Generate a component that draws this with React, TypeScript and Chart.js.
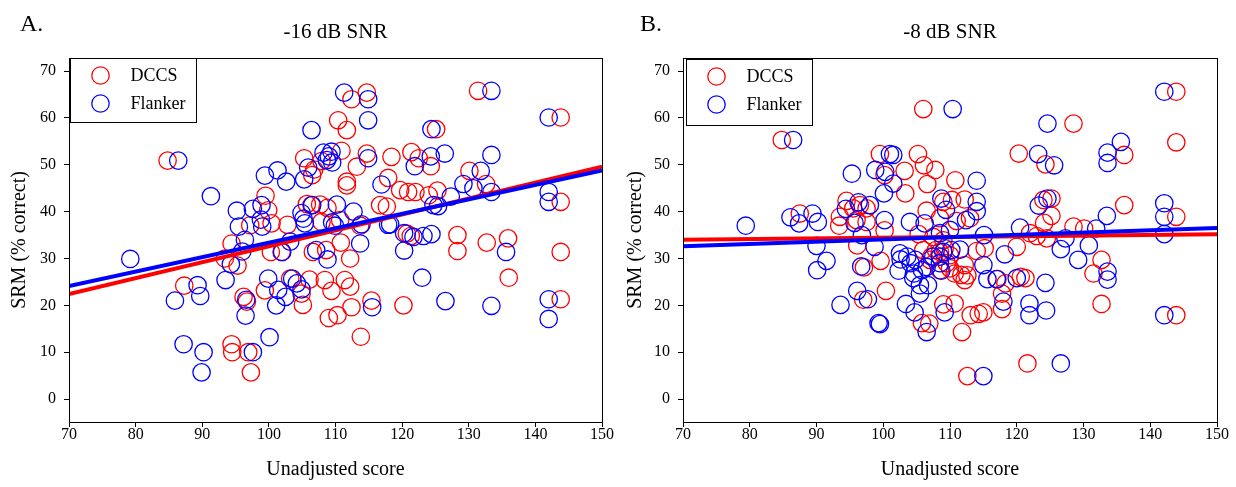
import React, { useEffect, useRef } from "react";
import { Chart, registerables } from "chart.js";

Chart.register(...registerables);

const FONT = '"Liberation Serif", "Times New Roman", serif';

const xTicks = [70, 80, 90, 100, 110, 120, 130, 140, 150];
const yTicks = [0, 10, 20, 30, 40, 50, 60, 70];
const seriesNames = ["DCCS", "Flanker"];
const panelLabels = ["A.", "B."];
const panelTitles = ["-16 dB SNR", "-8 dB SNR"];
const xAxisTitle = "Unadjusted score";
const yAxisTitle = "SRM (% correct)";

type Pt = [number, number];

// Panel A (-16 dB SNR)
const dccsA: Pt[] = [
  [84.8, 50.9], [87.3, 24.2], [93.4, 30.0], [94.4, 33.2], [95.3, 28.5], [94.4, 11.7], [94.5, 10.0],
  [96.9, 10.0], [97.3, 5.7], [96.2, 21.8], [96.7, 20.8], [97.2, 37.1], [99.5, 43.4], [99.9, 40.3],
  [100.4, 37.5], [99.4, 23.2], [100.3, 31.4], [101.9, 31.4], [102.8, 37.2], [103.2, 25.7], [104.9, 22.5],
  [105.1, 20.1], [106.1, 25.5], [105.3, 51.4], [106.5, 47.8], [106.8, 49.0], [107.9, 50.8], [105.7, 41.6],
  [106.4, 41.4], [107.7, 41.5], [108.8, 40.8], [107.9, 37.8], [106.6, 31.4], [108.6, 31.8], [108.4, 25.4],
  [109.4, 23.1], [109.0, 17.3], [110.3, 17.9], [110.8, 33.4], [112.2, 30.0], [111.4, 25.4], [112.2, 24.0],
  [112.4, 19.6], [113.8, 13.3], [113.7, 37.0], [110.7, 38.2], [111.7, 46.4], [111.7, 45.6], [113.2, 49.6],
  [110.9, 53.0], [114.7, 52.4], [110.4, 59.5], [111.7, 57.4], [112.4, 64.0], [114.7, 65.4], [116.7, 41.4],
  [117.7, 41.1], [117.9, 47.2], [118.4, 51.7], [119.7, 44.6], [120.9, 44.2], [122.0, 44.2], [121.4, 52.7],
  [122.5, 51.4], [124.3, 49.7], [124.0, 43.5], [125.3, 44.5], [125.1, 57.6], [120.7, 35.3], [121.3, 34.8],
  [120.2, 20.0], [115.4, 21.0], [128.3, 35.0], [128.3, 31.6], [130.1, 48.7], [132.6, 45.9], [131.4, 65.8],
  [132.7, 33.4], [135.9, 34.3], [136.0, 25.9], [143.8, 60.1], [143.8, 42.1], [143.8, 31.4], [143.8, 21.3],
];
const flankerA: Pt[] = [
  [86.4, 50.9], [79.2, 29.9], [91.3, 43.3], [85.9, 21.0], [89.3, 24.3], [89.7, 22.0], [87.2, 11.7],
  [90.2, 10.0], [89.9, 5.7], [93.5, 25.4], [94.3, 28.8], [96.0, 31.5], [96.4, 34.0], [95.2, 40.2],
  [95.5, 36.8], [97.6, 40.6], [98.9, 41.4], [98.8, 38.3], [99.0, 36.8], [99.4, 47.7], [101.3, 48.8],
  [102.6, 46.4], [96.6, 21.2], [96.5, 17.8], [97.6, 10.0], [100.1, 13.2], [99.9, 25.7], [101.4, 23.3],
  [101.1, 20.0], [102.5, 21.8], [103.5, 25.7], [104.2, 24.7], [104.9, 23.4], [102.0, 31.4], [103.2, 33.6],
  [104.9, 39.7], [105.2, 38.5], [105.4, 37.5], [106.5, 41.4], [105.3, 46.9], [105.9, 49.4], [106.4, 57.4],
  [108.2, 52.6], [109.0, 51.8], [108.7, 51.0], [109.5, 50.5], [109.4, 52.8], [111.3, 65.4], [114.9, 64.0],
  [114.9, 59.5], [114.9, 51.4], [110.2, 41.5], [112.7, 40.0], [113.9, 37.3], [109.5, 37.7], [109.9, 37.0],
  [107.1, 31.8], [108.8, 29.8], [113.7, 33.2], [116.9, 45.8], [117.9, 37.2], [120.3, 35.4], [121.7, 34.6],
  [123.2, 34.8], [124.4, 35.2], [120.3, 31.7], [121.9, 49.7], [124.3, 51.8], [126.4, 52.4], [124.4, 57.6],
  [129.2, 45.9], [130.7, 45.0], [131.8, 48.7], [133.4, 44.2], [133.4, 52.1], [133.4, 65.8], [142.0, 60.1],
  [142.0, 44.2], [142.0, 42.1], [142.0, 21.3], [142.0, 17.1], [124.7, 41.4], [125.4, 41.2], [127.3, 43.2],
  [118.2, 37.3], [123.0, 25.9], [126.5, 20.9], [133.4, 19.9], [135.6, 31.4], [115.5, 19.6],
];
const fitDccsA: Pt[] = [[70, 22.4], [150, 49.6]];
const fitFlankerA: Pt[] = [[70, 24.1], [150, 48.8]];

// Panel B (-8 dB SNR)
const dccsB: Pt[] = [
  [84.8, 55.3], [87.5, 39.6], [93.4, 37.0], [93.5, 38.9], [94.5, 42.3], [95.5, 40.7], [96.5, 41.4],
  [97.5, 40.7], [96.0, 38.2], [97.5, 37.8], [96.1, 32.8], [97.1, 28.1], [99.6, 29.5], [97.0, 21.2],
  [100.4, 23.1], [99.5, 52.3], [100.2, 47.8], [103.2, 48.7], [103.3, 43.9], [100.2, 36.0], [105.2, 52.3],
  [106.1, 49.9], [107.8, 48.9], [106.6, 45.9], [106.0, 61.9], [106.5, 40.2], [105.3, 35.2], [108.5, 38.6],
  [109.0, 42.1], [110.3, 42.5], [112.2, 42.6], [110.8, 46.7], [113.0, 38.6], [111.0, 38.0], [108.5, 31.4],
  [106.0, 31.8], [107.2, 30.4], [107.9, 31.8], [109.2, 32.2], [110.0, 30.7], [110.0, 27.9], [108.5, 27.5],
  [107.0, 29.7], [109.5, 29.0], [110.7, 26.8], [111.7, 26.5], [112.2, 25.4], [112.2, 28.6], [112.6, 26.4],
  [109.0, 20.2], [110.7, 20.4], [111.8, 14.3], [113.1, 17.9], [114.3, 18.2], [115.0, 18.5], [105.8, 16.2],
  [106.9, 16.1], [112.6, 4.9], [114.0, 31.6], [115.2, 32.2], [117.1, 25.6], [118.3, 24.7], [117.8, 22.5],
  [117.8, 19.2], [120.0, 32.5], [120.6, 26.1], [121.3, 25.8], [121.6, 7.6], [120.3, 52.4], [124.3, 50.1],
  [122.0, 35.4], [123.0, 34.8], [124.5, 34.3], [124.0, 42.5], [125.2, 42.8], [125.2, 39.1], [124.1, 37.6],
  [128.5, 58.8], [128.5, 36.8], [130.1, 36.4], [132.7, 29.7], [131.5, 26.8], [132.7, 20.3], [136.1, 52.1],
  [136.1, 41.4], [143.9, 65.6], [143.9, 54.8], [143.9, 38.9], [143.9, 17.9], [107.5, 34.6], [109.0, 33.9],
];
const flankerB: Pt[] = [
  [86.5, 55.3], [79.4, 37.0], [86.1, 38.8], [87.4, 37.5], [89.4, 39.6], [90.2, 37.8], [90.0, 32.7],
  [91.5, 29.5], [90.1, 27.5], [93.6, 20.1], [95.3, 48.1], [94.4, 40.6], [96.3, 42.0], [98.0, 41.4],
  [95.7, 37.6], [96.8, 35.0], [98.8, 48.9], [100.3, 48.5], [101.0, 52.3], [101.5, 52.1], [101.5, 46.0],
  [100.1, 43.9], [100.2, 38.2], [104.0, 37.8], [106.2, 37.5], [108.5, 35.4], [110.0, 36.1], [108.7, 42.8],
  [110.4, 61.9], [114.0, 46.6], [114.0, 42.1], [114.0, 40.1], [112.4, 38.2], [109.4, 40.4], [115.1, 35.0],
  [110.2, 31.8], [111.5, 31.9], [98.7, 32.5], [96.7, 28.3], [96.1, 23.1], [97.7, 21.3], [99.3, 16.2],
  [99.5, 16.0], [102.3, 27.4], [102.6, 29.8], [102.5, 31.1], [103.6, 30.4], [104.1, 29.0], [104.8, 29.7],
  [104.6, 26.8], [105.8, 27.5], [106.5, 28.2], [107.5, 30.4], [108.5, 30.4], [108.5, 29.0], [109.0, 31.4],
  [104.5, 25.8], [105.5, 24.3], [105.5, 22.5], [106.7, 24.3], [103.4, 20.3], [104.7, 18.5], [106.5, 14.3],
  [109.2, 18.5], [108.7, 27.4], [115.0, 28.6], [115.6, 25.6], [117.0, 25.6], [118.2, 30.9], [120.0, 25.8],
  [118.0, 20.8], [121.9, 20.4], [121.9, 17.9], [124.4, 18.9], [124.3, 24.8], [126.6, 7.6], [115.0, 4.9],
  [120.5, 36.6], [123.3, 41.3], [124.6, 42.8], [123.2, 52.3], [125.6, 49.9], [124.6, 58.8], [127.3, 34.3],
  [126.6, 32.0], [129.2, 29.7], [130.8, 32.8], [131.9, 36.4], [133.5, 39.1], [133.6, 27.2], [133.6, 25.5],
  [133.6, 52.6], [133.6, 50.4], [135.6, 54.9], [142.1, 65.6], [142.1, 41.8], [142.1, 38.9], [142.1, 35.2],
  [142.1, 17.9],
];
const fitDccsB: Pt[] = [[70, 34.0], [150, 35.2]];
const fitFlankerB: Pt[] = [[70, 32.6], [150, 36.5]];

const RED = "#ff0000";
const BLUE = "#0000ff";
const R = 8.7;

type PanelProps = {
  label: string;
  title: string;
  dccs: Pt[];
  flanker: Pt[];
  fitD: Pt[];
  fitF: Pt[];
  yAxisWidth: number;
  padRight: number;
  labelX: number;
  yTitleX: number;
  legendDx: number;
  legendTop: number;
  legendH: number;
};

function Panel(p: PanelProps) {
  const ref = useRef<HTMLCanvasElement | null>(null);
  useEffect(() => {
    if (!ref.current) return;
    const toXY = (a: Pt[]) => a.map(([x, y]) => ({ x, y }));
    const decor = {
      id: "decor",
      afterDraw(chart: any) {
        const { ctx, chartArea: ca } = chart;
        ctx.save();
        ctx.strokeStyle = "#000";
        ctx.lineWidth = 1;
        ctx.strokeRect(Math.round(ca.left) + 0.5, Math.round(ca.top) + 0.5, Math.round(ca.right - ca.left), Math.round(ca.bottom - ca.top));
        ctx.fillStyle = "#000";
        ctx.textBaseline = "middle";
        ctx.font = `21px ${FONT}`;
        ctx.textAlign = "center";
        ctx.fillText(p.title, (ca.left + ca.right) / 2, 32);
        ctx.font = `24px ${FONT}`;
        ctx.textAlign = "left";
        ctx.fillText(p.label, p.labelX, 25);
        ctx.font = `20px ${FONT}`;
        ctx.textAlign = "center";
        ctx.fillText(xAxisTitle, (ca.left + ca.right) / 2, 470);
        ctx.save();
        ctx.translate(p.yTitleX, (ca.top + ca.bottom) / 2);
        ctx.rotate(-Math.PI / 2);
        ctx.fillText(yAxisTitle, 0, 0);
        ctx.restore();
        const lx = Math.round(ca.left) + p.legendDx + 0.5;
        const ly = p.legendTop + 0.5;
        ctx.fillStyle = "#fff";
        ctx.fillRect(lx, ly, 126, p.legendH);
        ctx.strokeStyle = "#000";
        ctx.lineWidth = 1;
        ctx.strokeRect(lx, ly, 126, p.legendH);
        const cols = [RED, BLUE];
        seriesNames.forEach((name, i) => {
          const cy = ly + 17 + i * 28;
          ctx.beginPath();
          ctx.strokeStyle = cols[i];
          ctx.lineWidth = 1.3;
          ctx.arc(lx + 30, cy, R, 0, Math.PI * 2);
          ctx.stroke();
          ctx.fillStyle = "#000";
          ctx.font = `18px ${FONT}`;
          ctx.textAlign = "left";
          ctx.fillText(name, lx + 60, cy + 1);
        });
        ctx.restore();
      },
    };
    const tickGrid = {
      display: true,
      drawOnChartArea: false,
      drawTicks: true,
      tickLength: 5,
      tickWidth: 1,
      tickColor: "#000",
      color: "#000",
    };
    const chart = new Chart(ref.current, {
      type: "scatter",
      data: {
        datasets: [
          {
            type: "line",
            label: "fitF",
            data: toXY(p.fitF),
            borderColor: BLUE,
            borderWidth: 4,
            pointRadius: 0,
            fill: false,
            order: 0,
          } as any,
          {
            type: "line",
            label: "fitD",
            data: toXY(p.fitD),
            borderColor: RED,
            borderWidth: 4,
            pointRadius: 0,
            fill: false,
            order: 1,
          } as any,
          {
            label: seriesNames[1],
            data: toXY(p.flanker),
            pointRadius: R,
            pointHoverRadius: R,
            borderColor: BLUE,
            backgroundColor: "rgba(0,0,0,0)",
            borderWidth: 1.3,
            order: 2,
          },
          {
            label: seriesNames[0],
            data: toXY(p.dccs),
            pointRadius: R,
            pointHoverRadius: R,
            borderColor: RED,
            backgroundColor: "rgba(0,0,0,0)",
            borderWidth: 1.3,
            order: 3,
          },
        ],
      },
      options: {
        responsive: false,
        maintainAspectRatio: false,
        animation: false,
        events: [],
        layout: { padding: { top: 58, right: p.padRight, bottom: 0, left: 0 } },
        plugins: {
          legend: { display: false },
          tooltip: { enabled: false },
          title: { display: false },
        },
        scales: {
          x: {
            type: "linear",
            min: 70,
            max: 150,
            afterBuildTicks: (s: any) => {
              s.ticks = xTicks.map((v) => ({ value: v }));
            },
            afterFit: (s: any) => {
              s.height = 65;
            },
            grid: tickGrid,
            border: { display: true, color: "#000", width: 1 },
            ticks: {
              color: "#000",
              font: { family: FONT, size: 16 },
              padding: -2,
              autoSkip: false,
              maxRotation: 0,
            },
          },
          y: {
            type: "linear",
            min: -4.9,
            max: 72.8,
            afterBuildTicks: (s: any) => {
              s.ticks = yTicks.map((v) => ({ value: v }));
            },
            afterFit: (s: any) => {
              s.width = p.yAxisWidth;
            },
            grid: tickGrid,
            border: { display: true, color: "#000", width: 1 },
            ticks: {
              color: "#000",
              font: { family: FONT, size: 16 },
              padding: 8,
              autoSkip: false,
            },
          },
        },
      },
      plugins: [decor],
    } as any);
    return () => chart.destroy();
  }, []);
  return <canvas ref={ref} width={618} height={487} style={{ display: "block", width: 618, height: 487 }} />;
}

export default function App() {
  return (
    <div style={{ position: "absolute", left: 0, top: 0, width: 1236, height: 487, display: "flex", background: "#fff" }}>
      <Panel
        label={panelLabels[0]}
        title={panelTitles[0]}
        dccs={dccsA}
        flanker={flankerA}
        fitD={fitDccsA}
        fitF={fitFlankerA}
        yAxisWidth={69}
        padRight={16}
        labelX={20}
        yTitleX={20}
        legendDx={1}
        legendTop={58}
        legendH={64}
      />
      <Panel
        label={panelLabels[1]}
        title={panelTitles[1]}
        dccs={dccsB}
        flanker={flankerB}
        fitD={fitDccsB}
        fitF={fitFlankerB}
        yAxisWidth={65}
        padRight={19}
        labelX={22}
        yTitleX={18}
        legendDx={3}
        legendTop={59}
        legendH={66}
      />
    </div>
  );
}
